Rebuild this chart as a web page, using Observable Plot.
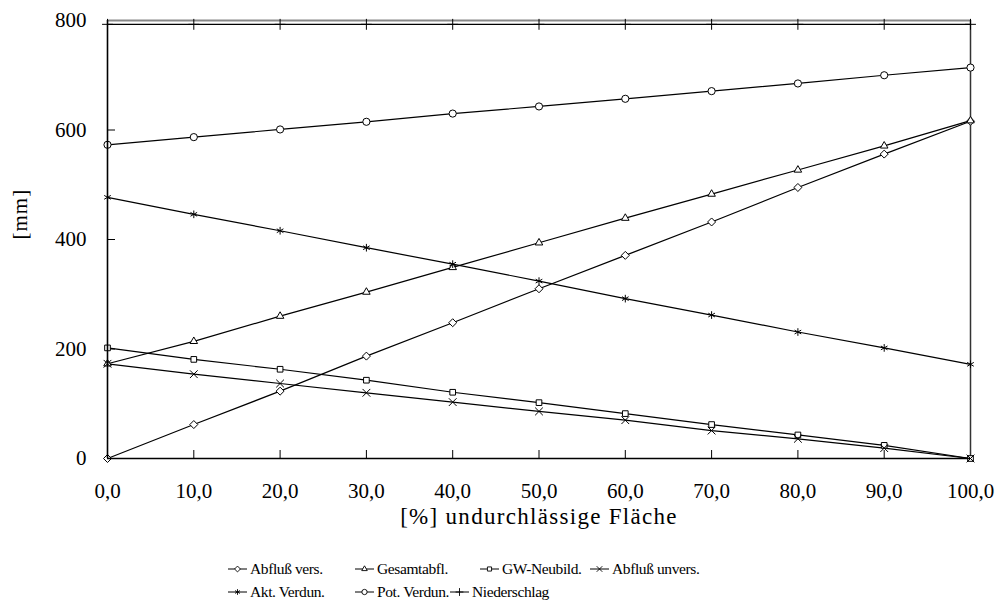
<!DOCTYPE html>
<html><head><meta charset="utf-8">
<script src="https://cdn.jsdelivr.net/npm/d3@7"></script>
<script src="https://cdn.jsdelivr.net/npm/@observablehq/plot@0.6"></script>
<style>
body{margin:0;background:#fff;}
#wrap{position:relative;width:996px;height:612px;font-family:'Liberation Serif',serif;overflow:hidden;}
#wrap > svg{position:absolute;left:0;top:0;}
.leg{position:absolute;font-family:'Liberation Serif',serif;font-size:15.5px;letter-spacing:-0.4px;color:#000;display:flex;align-items:center;white-space:nowrap;height:20px;}
.leg svg{margin-right:3px;overflow:visible;}
</style></head><body><div id="wrap"></div>
<script>
// x categories: [%] undurchlässige Fläche
const xValues = [0, 10, 20, 30, 40, 50, 60, 70, 80, 90, 100];
// series values [mm]
const abflussVers   = [0, 62, 123, 187, 248, 310, 371, 432, 495, 556, 616];
const gesamtabfl    = [173, 214, 260, 304, 349, 394, 439, 483, 527, 571, 617];
const gwNeubild     = [202, 181, 163, 143, 121, 102, 82, 62, 43, 24, 0];
const abflussUnvers = [173, 154, 137, 120, 103, 86, 70, 51, 36, 19, 0];
const aktVerdun     = [477, 446, 416, 385, 355, 324, 292, 262, 231, 202, 172];
const potVerdun     = [573, 587, 601, 615, 630, 643, 657, 671, 685, 700, 714];
const niederschlag  = [793, 793, 793, 793, 793, 793, 793, 793, 793, 793, 793];

const seriesNames = ["Abfluß vers.", "Gesamtabfl.", "GW-Neubild.", "Abfluß unvers.", "Akt. Verdun.", "Pot. Verdun.", "Niederschlag"];
const seriesSymbols = ["diamond2", "triangle2", "square2", "times", "asterisk", "circle", "plus"];
const seriesValues = [abflussVers, gesamtabfl, gwNeubild, abflussUnvers, aktVerdun, potVerdun, niederschlag];

const xTicks = [0, 10, 20, 30, 40, 50, 60, 70, 80, 90, 100];
const yTicks = [0, 200, 400, 600, 800];
const xTitle = "[%] undurchlässige Fläche";
const yTitle = "[mm]";

const rows = seriesNames.flatMap((name, i) => xValues.map((x, j) => ({series: name, x, y: seriesValues[i][j]})));

const W = 996, H = 550, mL = 107, mR = 26, mT = 20, mB = 92;
const plot = Plot.plot({
  width: W, height: H, marginLeft: mL, marginRight: mR, marginTop: mT, marginBottom: mB,
  style: {fontFamily: "'Liberation Serif', serif", fontSize: "21px", background: "#fff", color: "#000"},
  x: {domain: [0, 100]},
  y: {domain: [0, 800]},
  symbol: {domain: seriesNames, range: seriesSymbols},
  marks: [
    Plot.ruleY([800], {stroke: "#888", strokeWidth: 2}),
    Plot.ruleX([100], {stroke: "#333", strokeWidth: 1.5}),
    Plot.tickX(xTicks.slice(1, -1), {x: d => d, insetTop: H - mT - mB - 8, stroke: "#000"}),
    Plot.tickY(yTicks.slice(1, -1), {y: d => d, insetRight: W - mL - mR - 8, stroke: "#000"}),
    Plot.line(rows, {x: "x", y: "y", z: "series", stroke: "#000", strokeWidth: 1.2}),
    Plot.dot(rows, {x: "x", y: "y", symbol: "series", r: 3.6, stroke: "#000", fill: "#fff", strokeWidth: 1}),
    Plot.ruleX([0], {stroke: "#000", strokeWidth: 1.6}),
    Plot.ruleY([0], {stroke: "#000", strokeWidth: 1.6}),
    Plot.axisX({ticks: xTicks, tickSize: 0, tickPadding: 25, tickFormat: d => d.toFixed(1).replace(".", ","), label: null}),
    Plot.axisY({ticks: yTicks, tickSize: 0, tickPadding: 21, tickFormat: d => String(d), label: null}),
    Plot.text([yTitle], {frameAnchor: "left", dx: -87, rotate: -90, fontSize: 21}),
    Plot.text([xTitle], {frameAnchor: "bottom", dy: 65, fontSize: 23})
  ]
});
const wrap = document.getElementById("wrap");
wrap.appendChild(plot);
// widen title spacing to approximate the wider original typeface
plot.querySelectorAll("text").forEach(t => {
  if (t.textContent === xTitle) t.setAttribute("letter-spacing", "1.3");
  if (t.textContent === yTitle) t.setAttribute("letter-spacing", "1");
});

// legend
const legendPos = [[228, 559], [355, 559], [480, 559], [590, 559], [228, 582], [355, 582], [450, 582]];
const d3sym = {diamond2: d3.symbolDiamond2, triangle2: d3.symbolTriangle2, square2: d3.symbolSquare2, times: d3.symbolTimes, asterisk: d3.symbolAsterisk, circle: d3.symbolCircle, plus: d3.symbolPlus};
seriesNames.forEach((name, i) => {
  const div = document.createElement("div");
  div.className = "leg";
  div.style.left = legendPos[i][0] + "px";
  div.style.top = legendPos[i][1] + "px";
  const path = d3.symbol(d3sym[seriesSymbols[i]], 22)();
  div.innerHTML = `<svg width="19" height="12"><line x1="0" x2="19" y1="6" y2="6" stroke="#000" stroke-width="1"/><path d="${path}" transform="translate(9.5,6)" fill="#fff" stroke="#000" stroke-width="0.9"/></svg><span>${name}</span>`;
  wrap.appendChild(div);
});
</script></body></html>
